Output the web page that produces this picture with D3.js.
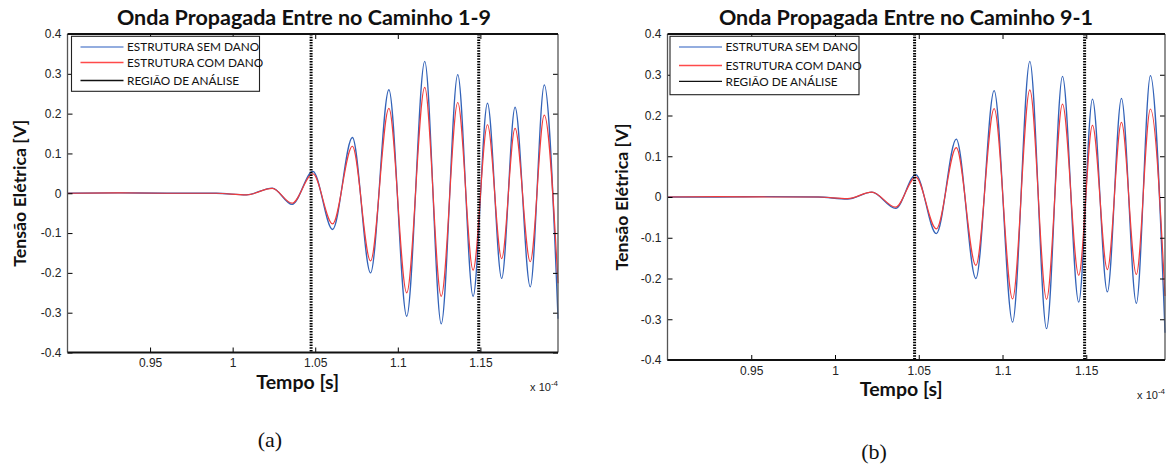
<!DOCTYPE html>
<html>
<head>
<meta charset="utf-8">
<script src="https://cdn.jsdelivr.net/npm/d3@7"></script>
<style>
    body { margin: 0; background: #fff; }
    svg { display: block; }
</style>
</head>
<body>
<div id="chart"></div>
<script>
// ============================================================================
// data (time in units of 1e-4 s, voltage in V)
// ============================================================================

const titles = ["Onda Propagada Entre no Caminho 1-9", "Onda Propagada Entre no Caminho 9-1"];
const captions = ["(a)", "(b)"];
const legendLabels = ["ESTRUTURA SEM DANO", "ESTRUTURA COM DANO", "REGIÃO DE ANÁLISE"];

const xTicks = [0.95, 1, 1.05, 1.1, 1.15];
const yTicks = [0.4, 0.3, 0.2, 0.1, 0, -0.1, -0.2, -0.3, -0.4];
const analysisRegion = [1.0475, 1.149];

// path 1-9
const timeA = [0.9, 0.93, 0.96, 0.99, 1.0083, 1.024, 1.036, 1.0486, 1.0605, 1.0725, 1.0835, 1.0946,
    1.1054, 1.1163, 1.1263, 1.1363, 1.1456, 1.1543, 1.1629, 1.171, 1.1802, 1.1887, 1.197];
const semDanoA = [0, 0.001, 0, 0, -0.004, 0.013, -0.028, 0.055, -0.091, 0.14, -0.2, 0.26,
    -0.309, 0.331, -0.328, 0.298, -0.259, 0.226, -0.214, 0.216, -0.235, 0.272, -0.315];
const comDanoA = [0, 0.001, 0, 0, -0.004, 0.012, -0.025, 0.049, -0.077, 0.118, -0.17, 0.213,
    -0.25, 0.266, -0.259, 0.228, -0.193, 0.172, -0.164, 0.163, -0.172, 0.196, -0.226];

// path 9-1
const timeB = [0.9, 0.93, 0.96, 0.99, 1.0075, 1.022, 1.0362, 1.0482, 1.0605, 1.0724, 1.0841, 1.095,
    1.106, 1.1163, 1.1263, 1.1358, 1.1455, 1.1537, 1.1626, 1.171, 1.1799, 1.1883, 1.197];
const semDanoB = [0, 0, 0.001, 0, -0.005, 0.012, -0.028, 0.055, -0.09, 0.142, -0.2, 0.261,
    -0.307, 0.333, -0.323, 0.296, -0.258, 0.24, -0.233, 0.242, -0.261, 0.298, -0.333];
const comDanoB = [0, 0.001, 0, 0, -0.004, 0.012, -0.025, 0.049, -0.078, 0.121, -0.168, 0.217,
    -0.25, 0.263, -0.251, 0.228, -0.192, 0.176, -0.178, 0.183, -0.19, 0.216, -0.243];

// ============================================================================
// layout
// ============================================================================

const width = 1171, height = 464;
const blue = "#3262b8", red = "#f03c3c";

const panels = [
    { left: 67.5, right: 558, top: 34, bottom: 352.5, time: timeA, sem: semDanoA, com: comDanoA,
      titleX: 304, yLabelX: 20, legend: { x: 71.5, y: 36.3, w: 188, h: 55, rows: [47, 62.5, 80.5] },
      captionX: 270, captionY: 447 },
    { left: 667.5, right: 1165, top: 34, bottom: 360, time: timeB, sem: semDanoB, com: comDanoB,
      titleX: 906, yLabelX: 621.5, legend: { x: 670, y: 36.3, w: 189, h: 58.4, rows: [47, 65.5, 81.3] },
      captionX: 874, captionY: 459 }
];

const svg = d3.select("#chart").append("svg")
    .attr("width", width)
    .attr("height", height);

panels.forEach((p, i) => drawPanel(p, i));

function drawPanel(p, i) {
    const x = d3.scaleLinear().domain([0.9, 1.197]).range([p.left, p.right]);
    const y = d3.scaleLinear().domain([-0.4, 0.4]).range([p.bottom, p.top]);
    const g = svg.append("g");

    // title
    g.append("text")
        .attr("x", p.titleX)
        .attr("y", 25)
        .attr("text-anchor", "middle")
        .attr("font-family", "Lato, sans-serif")
        .attr("font-weight", "bold")
        .attr("font-size", 21.5)
        .attr("fill", "#111")
        .text(titles[i]);

    // waves
    const line = d3.line()
        .x((d, k) => x(p.time[k]))
        .y(d => y(d))
        .curve(d3.curveMonotoneX);

    g.append("path")
        .attr("d", line(p.sem))
        .attr("fill", "none")
        .attr("stroke", blue)
        .attr("stroke-width", 1.3);

    g.append("path")
        .attr("d", line(p.com))
        .attr("fill", "none")
        .attr("stroke", red)
        .attr("stroke-width", 1.2);

    // analysis region markers
    g.selectAll(".region")
        .data(analysisRegion)
        .join("line")
        .attr("x1", d => x(d))
        .attr("x2", d => x(d))
        .attr("y1", p.top)
        .attr("y2", p.bottom)
        .attr("stroke", "#000")
        .attr("stroke-width", 3)
        .attr("stroke-dasharray", "1.5 1.2");

    // axes with inward ticks
    const fmt = d => String(+d.toFixed(2));
    const axisFont = g => g.attr("font-family", "'Liberation Sans', Arial, sans-serif")
        .attr("font-size", 12);

    g.append("g")
        .attr("transform", `translate(0,${p.bottom})`)
        .call(d3.axisBottom(x).tickValues(xTicks).tickFormat(fmt).tickSize(-5).tickPadding(6).tickSizeOuter(0))
        .call(axisFont)
        .call(a => a.select(".domain").remove())
        .call(a => a.selectAll("text").attr("fill", "#222"));

    g.append("g")
        .attr("transform", `translate(0,${p.top})`)
        .call(d3.axisTop(x).tickValues(xTicks).tickFormat("").tickSize(-5).tickSizeOuter(0))
        .call(a => a.select(".domain").remove());

    g.append("g")
        .attr("transform", `translate(${p.left},0)`)
        .call(d3.axisLeft(y).tickValues(yTicks).tickFormat(fmt).tickSize(-5).tickPadding(6).tickSizeOuter(0))
        .call(axisFont)
        .call(a => a.select(".domain").remove())
        .call(a => a.selectAll("text").attr("fill", "#222"));

    g.append("g")
        .attr("transform", `translate(${p.right},0)`)
        .call(d3.axisRight(y).tickValues(yTicks).tickFormat("").tickSize(-5).tickSizeOuter(0))
        .call(a => a.select(".domain").remove());

    // frame
    g.append("line").attr("x1", p.left).attr("x2", p.left).attr("y1", p.top).attr("y2", p.bottom)
        .attr("stroke", "#555").attr("stroke-width", 1.3);
    g.append("line").attr("x1", p.right).attr("x2", p.right).attr("y1", p.top).attr("y2", p.bottom)
        .attr("stroke", "#555").attr("stroke-width", 1.3);
    g.append("line").attr("x1", p.left).attr("x2", p.right).attr("y1", p.top).attr("y2", p.top)
        .attr("stroke", "#111").attr("stroke-width", 1.8);
    g.append("line").attr("x1", p.left).attr("x2", p.right).attr("y1", p.bottom).attr("y2", p.bottom)
        .attr("stroke", "#111").attr("stroke-width", 1.8);

    // axis labels
    g.append("text")
        .attr("transform", `translate(${p.yLabelX},${(p.top + p.bottom) / 2}) rotate(-90)`)
        .attr("text-anchor", "middle")
        .attr("dy", "0.35em")
        .attr("font-family", "Lato, sans-serif")
        .attr("font-weight", "bold")
        .attr("font-size", 17.8)
        .attr("fill", "#111")
        .text("Tensão Elétrica [V]");

    const mid = (p.left + p.right) / 2;
    g.append("text")
        .attr("x", mid - 15)
        .attr("y", p.bottom + 36)
        .attr("text-anchor", "middle")
        .attr("font-family", "Lato, sans-serif")
        .attr("font-weight", "bold")
        .attr("font-size", 19.5)
        .attr("fill", "#111")
        .text("Tempo [s]");

    const expo = g.append("text")
        .attr("x", p.right)
        .attr("y", p.bottom + 38.5)
        .attr("text-anchor", "end")
        .attr("font-family", "'Liberation Sans', Arial, sans-serif")
        .attr("font-size", 11)
        .attr("fill", "#222");
    expo.append("tspan").text("x 10");
    expo.append("tspan").attr("dy", -5).attr("font-size", 8).text("-4");

    // legend
    const L = p.legend;
    const leg = g.append("g");
    leg.append("rect")
        .attr("x", L.x).attr("y", L.y)
        .attr("width", L.w).attr("height", L.h)
        .attr("fill", "#fff")
        .attr("stroke", "#222")
        .attr("stroke-width", 1.1);

    const legColors = ["#6f92d4", "#ff4a4a", "#111"];
    legendLabels.forEach((lab, k) => {
        leg.append("line")
            .attr("x1", L.x + 9).attr("x2", L.x + 52)
            .attr("y1", L.rows[k]).attr("y2", L.rows[k])
            .attr("stroke", legColors[k])
            .attr("stroke-width", 1.3);
        leg.append("text")
            .attr("x", L.x + 55.5)
            .attr("y", L.rows[k])
            .attr("dy", "0.36em")
            .attr("font-family", "Lato, sans-serif")
            .attr("font-size", 11.8)
            .attr("fill", "#111")
            .text(lab);
    });

    // caption
    svg.append("text")
        .attr("x", p.captionX)
        .attr("y", p.captionY)
        .attr("text-anchor", "middle")
        .attr("font-family", "'Liberation Serif', 'Times New Roman', serif")
        .attr("font-size", 22)
        .attr("fill", "#111")
        .text(captions[i]);
}
</script>
</body>
</html>
